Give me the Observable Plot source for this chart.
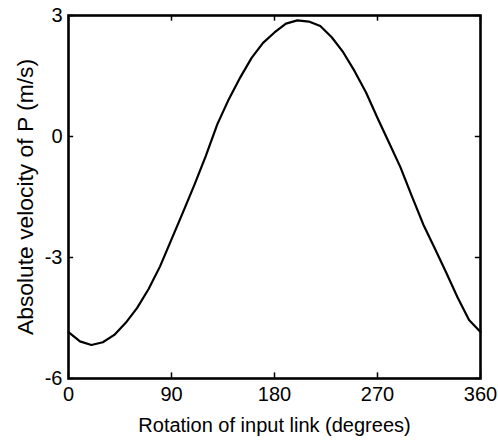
<!DOCTYPE html>
<html>
<head>
<meta charset="utf-8">
<script src="https://cdn.jsdelivr.net/npm/d3@7"></script>
<script src="https://cdn.jsdelivr.net/npm/@observablehq/plot@0.6"></script>
<style>
  html, body { margin: 0; padding: 0; background: #fff; }
</style>
</head>
<body>
<div id="chart"></div>
<script>
const angles = [0,10,20,30,40,50,60,70,80,90,100,110,120,130,140,150,160,170,180,190,200,210,220,230,240,250,260,270,280,290,300,310,320,330,340,350,360];
const velocity = [-4.85,-5.08,-5.17,-5.10,-4.92,-4.62,-4.25,-3.78,-3.22,-2.55,-1.88,-1.20,-0.48,0.30,0.92,1.46,1.95,2.32,2.58,2.80,2.88,2.85,2.74,2.46,2.09,1.62,1.09,0.46,-0.15,-0.76,-1.48,-2.18,-2.77,-3.37,-3.99,-4.55,-4.85];
const xTicks = [0, 90, 180, 270, 360];
const yTicks = [-6, -3, 0, 3];
const xLabel = "Rotation of input link (degrees)";
const yLabel = "Absolute velocity of P (m/s)";

const data = angles.map((a, i) => ({angle: a, v: velocity[i]}));

const chart = Plot.plot({
  width: 498,
  height: 442,
  marginLeft: 68,
  marginRight: 18,
  marginTop: 15,
  marginBottom: 64,
  style: {fontFamily: "Liberation Sans, Arial, sans-serif", fontSize: "20px", color: "black", background: "white"},
  x: {domain: [0, 360], ticks: xTicks},
  y: {domain: [-6, 3], ticks: yTicks},
  marks: [
    Plot.axisX({ticks: xTicks, tickSize: 0, tickPadding: 8, label: null, fontSize: 20, tickFormat: d => String(d)}),
    Plot.axisY({ticks: yTicks, tickSize: 0, tickPadding: 6, label: null, fontSize: 20, tickFormat: d => String(d)}),
    Plot.ruleX(xTicks, {x: d => d, y1: -6, y2: -5.86, stroke: "black", strokeWidth: 1.5}),
    Plot.ruleX(xTicks, {x: d => d, y1: 3, y2: 2.86, stroke: "black", strokeWidth: 1.5}),
    Plot.ruleY(yTicks, {y: d => d, x1: 0, x2: 4.5, stroke: "black", strokeWidth: 1.5}),
    Plot.ruleY(yTicks, {y: d => d, x1: 355.5, x2: 360, stroke: "black", strokeWidth: 1.5}),
    Plot.line(data, {x: "angle", y: "v", stroke: "black", strokeWidth: 2.2}),
    Plot.frame({stroke: "black", strokeWidth: 2.6}),
    Plot.text([xLabel], {frameAnchor: "bottom", dy: 47, fontSize: 20, textAnchor: "middle", lineAnchor: "middle", fill: "black"}),
    Plot.text([yLabel], {frameAnchor: "left", dx: -43, rotate: -90, fontSize: 22, textAnchor: "middle", lineAnchor: "middle", fill: "black", className: "ylab"})
  ]
});
d3.select(chart).selectAll("text").filter(function() { return this.textContent === yLabel; })
  .attr("textLength", 276).attr("lengthAdjust", "spacingAndGlyphs");
document.getElementById("chart").appendChild(chart);
</script>
</body>
</html>
